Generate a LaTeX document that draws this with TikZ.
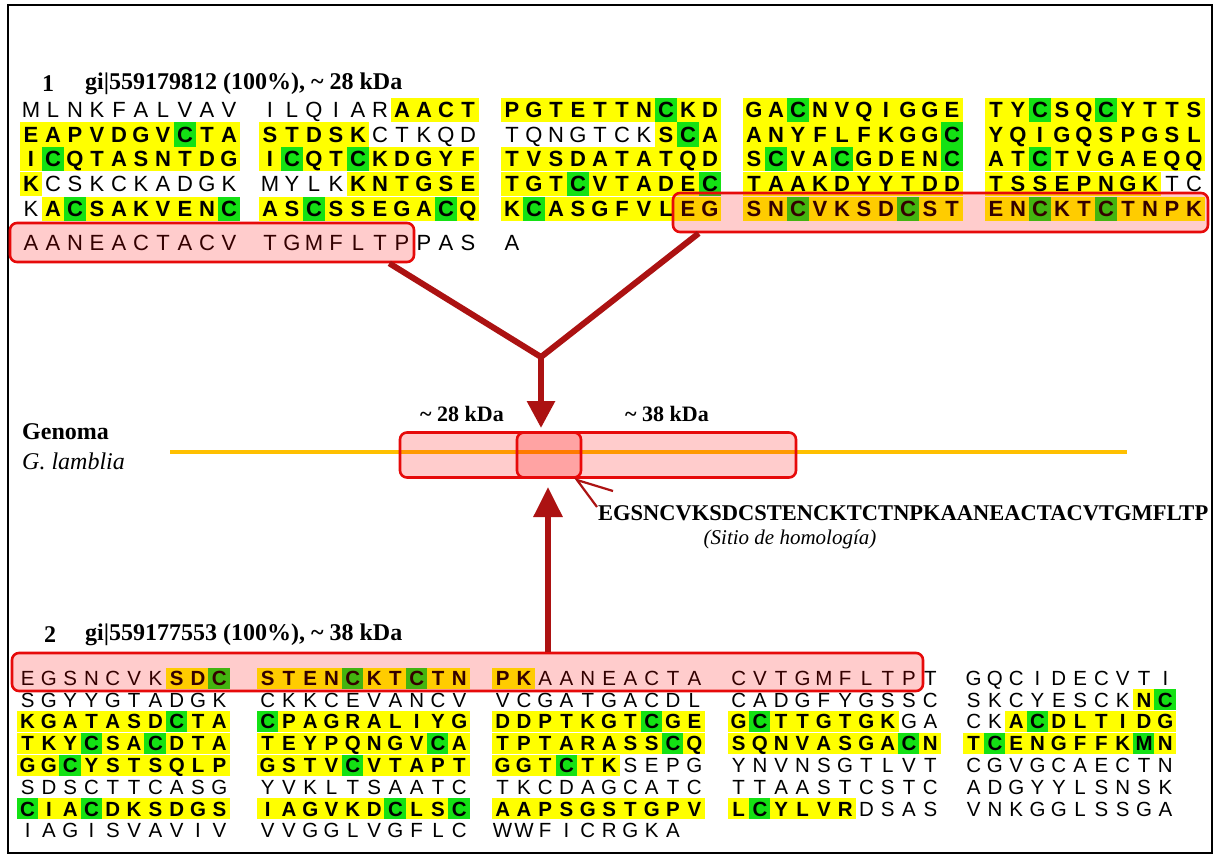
\documentclass[tikz,border=0pt]{standalone}
\usepackage{fontspec}
\setmainfont{Liberation Serif}
\newfontfamily\arialf{Liberation Sans}
\usetikzlibrary{arrows.meta}
\definecolor{seqyel}{RGB}{255,255,0}
\definecolor{seqgrn}{RGB}{20,225,20}
\definecolor{boxred}{RGB}{230,10,10}
\definecolor{arrred}{RGB}{172,18,18}
\definecolor{genorange}{RGB}{255,192,0}
\newcount\seqi
\newcount\cellno
\newif\ifseqgreen
\newif\ifseqyel
\def\seqpitch{22}\def\seqh{24}\def\seqfs{20}\def\seqcap{7.2}
\def\seqgroup#1#2#3{\seqi=0 \seqgreenfalse\seqyelfalse\def\sx{#1}\def\sy{#2}\seqparse#3\relax}
\def\seqparse#1{%
  \ifx#1\relax\let\seqnext\relax
  \else\ifx#1+\seqyeltrue\let\seqnext\seqparse
  \else\ifx#1-\seqyelfalse\let\seqnext\seqparse
  \else\ifx#1*\seqgreentrue\let\seqnext\seqparse
  \else\seqcell{#1}\let\seqnext\seqparse
  \fi\fi\fi\fi\seqnext}
\def\seqcell#1{%
  \pgfmathsetmacro\seqcx{\sx+(\the\seqi+0.5)*\seqpitch}%
  \global\advance\cellno by 1
  \ifseqgreen
    \fill[seqgrn] (\seqcx-\seqpitch/2-0.4,\sy-\seqh/2) rectangle (\seqcx+\seqpitch/2+0.4,\sy+\seqh/2);
    \node[seqB,name=c\the\cellno] at (\seqcx,\sy+\seqcap) {#1};
  \else\ifseqyel
    \fill[seqyel] (\seqcx-\seqpitch/2-0.4,\sy-\seqh/2) rectangle (\seqcx+\seqpitch/2+0.4,\sy+\seqh/2);
    \node[seqB,name=c\the\cellno] at (\seqcx,\sy+\seqcap) {#1};
  \else
    \node[seqP,name=c\the\cellno] at (\seqcx,\sy+\seqcap) {#1};
  \fi\fi
  \advance\seqi by 1 \seqgreenfalse}
\tikzset{
  seqB/.style={font=\arialf\bfseries\fontsize{\seqfs}{\seqfs}\selectfont, inner sep=0pt, anchor=base},
  seqP/.style={font=\arialf\fontsize{\seqfs}{\seqfs}\selectfont, inner sep=0pt, anchor=base},
  ttl/.style={font=\bfseries\fontsize{24}{26}\selectfont, inner sep=0pt},
  lbl/.style={font=\fontsize{22}{24}\selectfont, inner sep=0pt},
  hlbox/.style={draw=boxred, line width=2.6pt, rounded corners=7pt, fill=red, fill opacity=0.2, draw opacity=1, inner sep=0pt},
  arrline/.style={draw=arrred, line width=6pt},
  genline/.style={draw=genorange, line width=4pt},
}
\begin{document}
\begin{tikzpicture}[x=1pt,y=-1pt]
\useasboundingbox (0,0) rectangle (1215,854);
\fill[white] (0,0) rectangle (1215,854);
\draw[black, line width=2pt] (8,5) rectangle (1212,853);
% ---------- top sequence
\node[ttl] (n1) at (48,84) {1};
\node[ttl, anchor=west] (t1) at (85,84) {gi|559179812 (100\%), \textasciitilde\ 28 kDa};
\def\seqpitch{22}\def\seqh{24.6}\def\seqfs{22}\def\seqcap{7.9}
\seqgroup{20}{110}{-MLNKFALVAV}
\seqgroup{259}{110}{-ILQIAR+AACT}
\seqgroup{501}{110}{+PGTETTN*CKD}
\seqgroup{743}{110}{+GA*CNVQIGGE}
\seqgroup{985}{110}{+TY*CSQ*CYTTS}
\seqgroup{20}{134.5}{+EAPVDGV*CTA}
\seqgroup{259}{134.5}{+STDSK-CTKQD}
\seqgroup{501}{134.5}{-TQNGTCK+S*CA}
\seqgroup{743}{134.5}{+ANYFLFKGG*C}
\seqgroup{985}{134.5}{+YQIGQSPGSL}
\seqgroup{20}{159}{+I*CQTASNTDG}
\seqgroup{259}{159}{+I*CQT*CKDGYF}
\seqgroup{501}{159}{+TVSDATATQD}
\seqgroup{743}{159}{+S*CVA*CGDEN*C}
\seqgroup{985}{159}{+AT*CTVGAEQQ}
\seqgroup{20}{184}{+K-CSKCKADGK}
\seqgroup{259}{184}{-MYLK+KNTGSE}
\seqgroup{501}{184}{+TGT*CVTADE*C}
\seqgroup{743}{184}{+TAAKDYYTDD}
\seqgroup{985}{184}{+TSSEPNGK-TC}
\seqgroup{20}{209}{-K+A*CSAKVEN*C}
\seqgroup{259}{209}{+AS*CSSEGA*CQ}
\seqgroup{501}{209}{+K*CASGFVLEG}
\seqgroup{743}{209}{+SN*CVKSD*CST}
\seqgroup{985}{209}{+EN*CKT*CTNPK}
\seqgroup{20}{243}{-AANEACTACV}
\seqgroup{259}{243}{-TGMFLTPPAS}
\seqgroup{501}{243}{-A}
\node[hlbox, minimum width=404pt, minimum height=39pt] (boxA) at (212,242.5) {};
\node[hlbox, minimum width=535pt, minimum height=39pt] (boxB) at (940.5,212.5) {};
% ---------- bottom sequence
\node[ttl] (n2) at (50,635) {2};
\node[ttl, anchor=west] (t2) at (85,635) {gi|559177553 (100\%), \textasciitilde\ 38 kDa};
\def\seqpitch{21.3}\def\seqh{21}\def\seqfs{20.5}\def\seqcap{7.3}
\seqgroup{17}{678}{-EGSNCVK+SD*C}
\seqgroup{257}{678}{+STEN*CKT*CTN}
\seqgroup{492}{678}{+PK-AANEACTA}
\seqgroup{728}{678}{-CVTGMFLTPT}
\seqgroup{963}{678}{-GQCIDECVTI}
\seqgroup{17}{699.8}{-SGYYGTADGK}
\seqgroup{257}{699.8}{-CKKCEVANCV}
\seqgroup{492}{699.8}{-VCGATGACDL}
\seqgroup{728}{699.8}{-CADGFYGSSC}
\seqgroup{963}{699.8}{-SKCYESCK+N*C}
\seqgroup{17}{721.6}{+KGATASD*CTA}
\seqgroup{257}{721.6}{+*CPAGRALIYG}
\seqgroup{492}{721.6}{+DDPTKGT*CGE}
\seqgroup{728}{721.6}{+G*CTTGTGK-GA}
\seqgroup{963}{721.6}{-CK+A*CDLTIDG}
\seqgroup{17}{743.4}{+TKY*CSA*CDTA}
\seqgroup{257}{743.4}{+TEYPQNGV*CA}
\seqgroup{492}{743.4}{+TPTARASS*CQ}
\seqgroup{728}{743.4}{+SQNVASGA*CN}
\seqgroup{963}{743.4}{+T*CENGFFK*MN}
\seqgroup{17}{765.2}{+GG*CYSTSQLP}
\seqgroup{257}{765.2}{+GSTV*CVTAPT}
\seqgroup{492}{765.2}{+GGT*CTK-SEPG}
\seqgroup{728}{765.2}{-YNVNSGTLVT}
\seqgroup{963}{765.2}{-CGVGCAECTN}
\seqgroup{17}{787}{-SDSCTTCASG}
\seqgroup{257}{787}{-YVKLTSAATC}
\seqgroup{492}{787}{-TKCDAGCATC}
\seqgroup{728}{787}{-TTAASTCSTC}
\seqgroup{963}{787}{-ADGYYLSNSK}
\seqgroup{17}{808.8}{+*CIA*CDKSDGS}
\seqgroup{257}{808.8}{+IAGVKD*CLS*C}
\seqgroup{492}{808.8}{+AAPSGSTGPV}
\seqgroup{728}{808.8}{+L*CYLVR-DSAS}
\seqgroup{963}{808.8}{-VNKGGLSSGA}
\seqgroup{17}{830.6}{-IAGISVAVIV}
\seqgroup{257}{830.6}{-VVGGLVGFLC}
\seqgroup{492}{830.6}{-WWFICRGKA}
\node[hlbox, minimum width=911pt, minimum height=38pt] (boxC) at (467.5,672) {};
% ---------- genome
\node[lbl, anchor=west, font=\bfseries\fontsize{24}{26}\selectfont] (gen) at (22,432) {Genoma};
\node[lbl, anchor=west, font=\itshape\fontsize{24}{26}\selectfont] (gl) at (22,461) {G. lamblia};
\coordinate (gL) at (170,452);
\coordinate (gR) at (1127,452);
\draw[genline] (gL) -- (gR);
\node[hlbox, minimum width=181pt, minimum height=45pt] (b28) at (490.5,455) {};
\node[hlbox, minimum width=279pt, minimum height=45pt] (b38) at (656.5,455) {};
\node[lbl] (k28) at (462,414) {\bfseries\textasciitilde\ 28 kDa};
\node[lbl] (k38) at (667,414) {\bfseries\textasciitilde\ 38 kDa};
\node[lbl, anchor=west, font=\bfseries\fontsize{22.5}{24}\selectfont] (hseq) at (598,513) {EGSNCVKSDCSTENCKTCTNPKAANEACTACVTGMFLTP};
\node[lbl, font=\itshape\fontsize{21}{23}\selectfont] (sitio) at (790,539) {(Sitio de homología)};
\coordinate (cV) at (577,480);
\coordinate (cA) at (613,491);
\coordinate (cB) at (597,507);
\draw[arrred, line width=2.2pt] (cA) -- (cV) -- (cB);
% ---------- arrows
\coordinate (apex) at (541,357);
\coordinate (vtip) at (541,428);
\coordinate (btip) at (548,487);
\draw[arrline, line join=round] ([xshift=-26pt]boxA.south east) -- (apex) -- ([xshift=27pt]boxB.south west);
\draw[arrline, -{Triangle[length=27pt,width=27pt]}] (apex) -- (vtip);
\draw[arrline, -{Triangle[length=30pt,width=28pt]}] (btip |- boxC.north) -- (btip);
\end{tikzpicture}
\end{document}
